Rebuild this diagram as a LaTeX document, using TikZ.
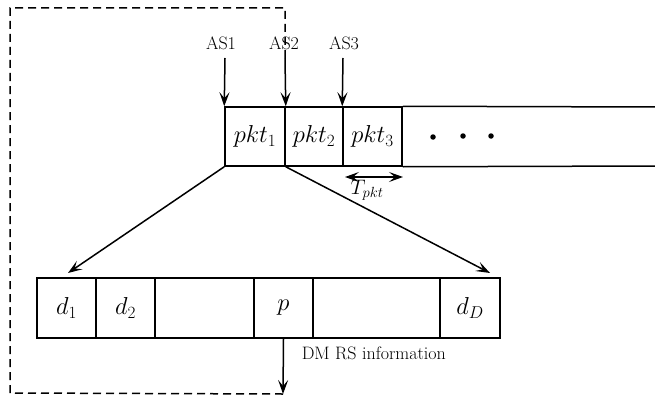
\documentclass[tikz,border=0pt]{standalone}
\usepackage{fix-cm}
\usetikzlibrary{arrows.meta,calc}
\begin{document}
\begin{tikzpicture}[x=1pt,y=-1pt,
  line width=1.5pt,
  tip/.tip={Stealth[length=14pt,width=10pt,inset=6pt]},
  arr/.style={-tip},
  darr/.style={tip-tip},
  cell/.style={draw,rectangle,inner sep=0pt,minimum height=59pt,font=\fontsize{24.5}{28}\selectfont},
  lbl/.style={inner sep=1pt,font=\fontsize{18}{21}\selectfont},
  loop/.style={dashed,dash pattern=on 8pt off 5pt}]
\useasboundingbox (0,0) rectangle (655,396);

% packet row
\node[cell,minimum width=60pt] (pk1) at (255,136.5) {$pkt_1$};
\node[cell,minimum width=58pt] (pk2) at (314,136.5) {$pkt_2$};
\node[cell,minimum width=59pt] (pk3) at (372.5,136.5) {$pkt_3$};
\coordinate (endtop) at (656,107);
\coordinate (endbot) at (656,166);
\draw (pk3.north east) -- (endtop);
\draw (pk3.south east) -- (endbot);
\node[circle,fill,inner sep=0pt,minimum size=5.5pt] (dot1) at (433,137) {};
\node[circle,fill,inner sep=0pt,minimum size=5.5pt] (dot2) at (463,136) {};
\node[circle,fill,inner sep=0pt,minimum size=5.5pt] (dot3) at (491,136) {};

% arrival labels and arrows
\node[lbl] (as1) at (221,43) {AS1};
\node[lbl] (as2) at (284,43) {AS2};
\node[lbl] (as3) at (344,43) {AS3};
\coordinate (a1) at (225,58);
\coordinate (a2) at (285,58);
\coordinate (a3) at (343,58);
\draw[arr] (a1) -- (pk1.north west);
\draw[arr] (a2) -- (pk1.north east);
\draw[arr] (a3) -- (pk3.north west);

% packet duration
\coordinate (t1) at (345,177);
\coordinate (t2) at (403,177);
\draw[darr] (t1) -- (t2);
\node[font=\fontsize{21}{24}\selectfont,inner sep=0pt] (tpkt) at (367,190) {$T_{pkt}$};

% symbol row
\node[cell,minimum width=59pt,minimum height=60pt] (b1) at (66.5,308) {$d_1$};
\node[cell,minimum width=59pt,minimum height=60pt] (b2) at (125.5,308) {$d_2$};
\node[cell,minimum width=99pt,minimum height=60pt] (b3) at (204.5,308) {};
\node[cell,minimum width=59pt,minimum height=60pt] (bp) at (283.5,308) {\raisebox{6pt}{$p$}};
\node[cell,minimum width=127pt,minimum height=60pt] (b5) at (376.5,308) {};
\node[cell,minimum width=60pt,minimum height=60pt] (bD) at (470,308) {\raisebox{-4pt}{$d_D$}};

% expansion of pkt_1
\coordinate (e1) at (68,273);
\coordinate (e2) at (490,273);
\draw[arr] (pk1.south west) -- (e1);
\draw[arr] (pk1.south east) -- (e2);

% DM RS feedback
\coordinate (fb) at (283,394);
\draw[arr] (bp.south) -- (fb);
\node[lbl,anchor=west] (dm) at (300,353) {DM RS information};
\draw[loop] (a2) -- (285,8) -- (10,8) -- (10,393) -- (fb);
\end{tikzpicture}
\end{document}
